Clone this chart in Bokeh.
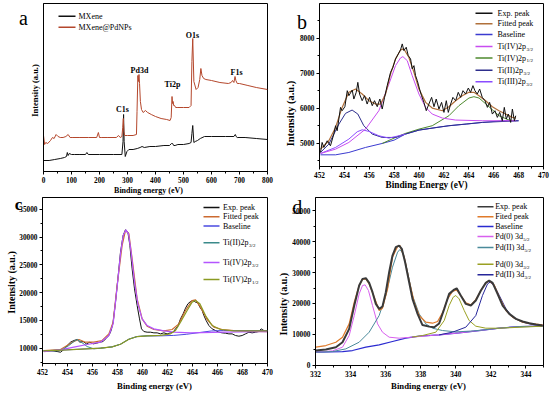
import math
from bokeh.plotting import figure
from bokeh.layouts import row, column
from bokeh.models import Range1d, Label, BoxAnnotation, SingleIntervalTicker, FixedTicker, GridBox
from bokeh.embed import file_html
from bokeh.resources import INLINE

SERIF = "Liberation Serif"

# ---------------- DATA ----------------
# Panel a: survey spectra (arbitrary intensity units)
a_mx_x = [0, 20, 40, 60, 75, 82, 85, 88, 92, 100, 110, 130, 150, 155, 160, 200, 250, 280, 284, 286, 288,
          292, 298, 305, 320, 335, 345, 352, 360, 380, 400, 430, 450, 457, 461, 465, 470, 480, 500, 520,
          527, 530, 533, 537, 542, 550, 560, 575, 600, 650, 680, 685, 688, 692, 720, 760, 800]
a_mx_y = [11, 11, 12, 13, 14, 15, 19, 16, 18, 17, 17, 17, 17, 19, 17, 17, 17, 17, 30, 57, 30,
          15, 20, 22, 22, 23, 24, 25, 24, 25, 25, 26, 26, 28, 28, 26, 26, 27, 27, 28,
          29, 38, 46, 29, 30, 31, 33, 35, 35, 35, 35, 37, 35, 34, 34, 33, 32]
a_pd_x = [0, 4, 8, 15, 25, 32, 38, 45, 52, 60, 70, 80, 88, 95, 105, 130, 160, 190, 196, 200, 206, 230,
          260, 268, 274, 280, 283, 285, 287, 290, 300, 320, 332, 334, 337, 339, 341, 343, 346, 350, 356,
          364, 372, 385, 400, 420, 440, 452, 456, 459, 461, 463, 465, 468, 472, 480, 500, 520, 527, 530,
          533, 537, 545, 552, 558, 562, 566, 572, 580, 600, 630, 660, 670, 675, 680, 684, 687, 692, 700,
          730, 760, 800]
a_pd_y = [36, 27, 29, 28, 31, 34, 33, 37, 35, 34, 34, 35, 37, 34, 34, 34, 34, 34, 39, 34, 34, 34,
          34, 36, 34, 35, 44, 53, 40, 36, 36, 36, 37, 60, 96, 90, 97, 88, 70, 62, 59,
          61, 59, 57, 55, 53, 52, 51, 54, 75, 68, 70, 66, 66, 64, 64, 64, 64, 66, 110,
          133, 90, 82, 84, 92, 103, 96, 93, 92, 91, 89, 88, 89, 91, 89, 95, 91, 88, 88,
          86, 84, 82]
a_series = ["MXene", "MXene@PdNPs"]
a_peak_names = ["C1s", "Pd3d", "Ti2p", "O1s", "F1s"]

# Panel b: Ti 2p of MXene (counts)
b_exp_x = [452.08, 452.21, 452.35, 452.62, 452.88, 453.15, 453.29, 453.42, 453.69, 453.82, 454.04, 454.23,
           454.36, 454.63, 454.76, 454.95, 455.08, 455.22, 455.43, 455.62, 455.83, 456.02, 456.24, 456.42,
           456.64, 456.85, 457.04, 457.23, 457.44, 457.71, 457.90, 458.11, 458.33, 458.51, 458.65, 458.78,
           458.97, 459.13, 459.32, 459.45, 459.59, 459.72, 459.86, 460.04, 460.20, 460.39, 460.58, 460.79,
           461.01, 461.20, 461.38, 461.60, 461.81, 462.00, 462.19, 462.35, 462.54, 462.72, 462.94, 463.15,
           463.34, 463.53, 463.74, 463.96, 464.14, 464.33, 464.49, 464.68, 464.87, 465.08, 465.30, 465.49,
           465.67, 465.89, 466.10, 466.29, 466.48, 466.69, 466.85, 467.01, 467.17, 467.36, 467.50, 467.66,
           467.77]
b_exp_y = [4743, 5029, 4886, 5076, 4933, 5267, 5505, 5362, 6028, 5933, 6047, 6504,
           6361, 6523, 6266, 6457, 6742, 6409, 6219, 6361, 6123, 6314, 6076, 6219,
           6047, 6266, 5981, 6314, 6647, 7028, 7171, 7409, 7551, 7666, 7837, 7647,
           7742, 7504, 7409, 7123, 7218, 6933, 6790, 6552, 6361, 6171, 5933, 6123,
           6314, 6047, 6266, 5981, 6171, 5885, 6219, 5885, 6123, 6314, 6219, 6457,
           6314, 6504, 6409, 6580, 6457, 6647, 6504, 6409, 6552, 6314, 6219, 6028,
           6171, 5838, 5933, 5743, 5885, 5647, 6028, 5695, 5838, 5600, 5981, 5647,
           5790]
b_fit_x = [452.08, 452.75, 453.29, 453.82, 454.36, 454.90, 455.43, 455.97, 456.50, 456.91, 457.31, 457.71,
           458.11, 458.51, 458.78, 459.18, 459.59, 459.99, 460.53, 461.06, 461.87, 462.40, 462.94, 463.47,
           464.01, 464.41, 464.82, 465.35, 465.89, 466.42, 466.96, 467.50, 467.77]
b_fit_y = [4838, 5076, 5457, 6028, 6457, 6552, 6409, 6219, 6123, 6123, 6409, 6980,
           7409, 7666, 7694, 7456, 7028, 6552, 6171, 6009, 5933, 6047, 6219, 6361,
           6457, 6457, 6361, 6219, 6047, 5933, 5838, 5743, 5724]
b_base_x = [452.08, 453.29, 454.36, 455.70, 457.04, 458.00, 458.90, 460.00, 461.50, 462.40, 463.80, 465.10,
            466.70, 468.00]
b_base_y = [4676, 4676, 4743, 4886, 5000, 5095, 5267, 5381, 5462, 5505, 5552, 5600, 5647, 5647]
b_t4a_x = [452.08, 453.29, 454.36, 455.70, 456.77, 457.58, 458.11, 458.51, 458.70, 459.05, 459.45, 459.99,
           460.53, 461.06, 461.87, 462.94, 465.08, 467.77]
b_t4a_y = [4714, 4838, 5029, 5409, 5933, 6695, 7218, 7437, 7475, 7361, 6933, 6409,
           6028, 5838, 5724, 5667, 5647, 5647]
b_t4b_x = [457.04, 458.11, 458.90, 460.00, 461.06, 462.40, 463.20, 464.01, 464.41, 464.82, 465.62, 466.42,
           467.23, 467.77]
b_t4b_y = [5000, 5171, 5286, 5409, 5505, 5790, 6076, 6295, 6333, 6295, 6047, 5790, 5667, 5647]
b_t2_x = [452.08, 452.75, 453.56, 454.09, 454.62, 455.08, 455.56, 456.24, 457.04, 458.11, 458.90, 460.00,
          462.40, 465.10, 468.00]
b_t2_y = [4743, 4981, 5552, 5857, 5952, 5838, 5505, 5267, 5171, 5171, 5267, 5381, 5505, 5600, 5647]
b_t3_x = [452.08, 453.29, 454.36, 455.03, 455.43, 455.97, 456.77, 457.58, 458.38, 458.90]
b_t3_y = [4714, 4886, 5124, 5333, 5390, 5343, 5219, 5152, 5219, 5267]

# Panel c: Ti 2p of MXene@PdNPs (counts)
c_exp_x = [452.11, 452.64, 453.17, 453.44, 453.71, 453.97, 454.24, 454.51, 454.77, 454.99, 455.25, 455.52,
           455.79, 456.05, 456.32, 456.59, 456.85, 457.04, 457.31, 457.49, 457.65, 457.84, 458.03, 458.24,
           458.45, 458.64, 458.83, 458.99, 459.17, 459.36, 459.57, 459.76, 459.92, 460.11, 460.37, 460.64,
           460.91, 461.17, 461.44, 461.71, 461.97, 462.24, 462.45, 462.64, 462.83, 463.04, 463.25, 463.44,
           463.63, 463.84, 464.05, 464.24, 464.43, 464.59, 464.77, 464.91, 465.09, 465.31, 465.57, 465.84,
           466.11, 466.37, 466.64, 466.91, 467.17, 467.44, 467.71, 467.97, 468.24, 468.51, 468.77, 469.04,
           469.31, 469.49, 469.71, 469.97]
c_exp_y = [9400, 9580, 9400, 9280, 9760, 10480, 11080, 11380, 11560, 11080, 11200, 10780,
           11080, 10780, 10900, 11080, 11200, 11680, 12280, 13180, 14680, 18280, 22480, 27280,
           30280, 31300, 30880, 28480, 24280, 20680, 17680, 15280, 13480, 13000, 12880, 12880,
           12760, 12760, 12580, 12760, 12580, 12760, 12880, 13480, 13960, 15280, 16180, 17200,
           17980, 18400, 18580, 18280, 18160, 17380, 16780, 15880, 14980, 14080, 13480, 13180,
           12880, 12760, 12700, 12580, 12580, 12280, 12160, 12280, 12580, 12880, 12760, 12880,
           13000, 13480, 13180, 13180]
c_fit_x = [452.11, 453.44, 453.97, 454.51, 454.91, 455.44, 456.11, 456.77, 457.31, 457.65, 457.97, 458.37,
           458.64, 458.91, 459.17, 459.57, 459.97, 460.37, 460.91, 461.71, 462.37, 462.91, 463.44, 463.97,
           464.24, 464.64, 465.17, 465.71, 466.37, 467.31, 468.37, 469.97]
c_fit_y = [9580, 9760, 10480, 11200, 11560, 11080, 11080, 11380, 12580, 14680, 21280, 28480,
           31180, 30580, 26080, 18880, 15280, 13960, 13360, 13120, 13360, 14380, 16780, 18580,
           18700, 17380, 15160, 13780, 13360, 13180, 13060, 13000]
c_base_x = [452.05, 453.97, 456.64, 457.57, 458.24, 458.91, 459.57, 460.37, 461.44, 462.50, 463.50, 464.50,
            465.50, 466.50, 470.00]
c_base_y = [9530, 9710, 10000, 10240, 10720, 11620, 12100, 12220, 12220, 12300, 12500, 12800,
            13100, 13180, 13180]
c_t2_x = [452.11, 453.44, 454.11, 454.51, 454.77, 455.04, 455.57, 456.11, 456.64, 457.57, 458.24, 458.91,
          459.57, 460.37, 461.44]
c_t2_y = [9400, 9580, 10480, 11200, 11560, 11200, 10300, 9880, 10000, 10240, 10720, 11620,
          12100, 12220, 12300]
c_t4a_x = [452.11, 453.44, 454.51, 455.57, 456.64, 457.31, 457.65, 457.97, 458.24, 458.45, 458.67, 458.88,
           459.09, 459.36, 459.63, 459.97, 460.37, 460.91, 461.71, 462.51, 463.84, 466.51, 469.97]
c_t4a_y = [9400, 9700, 10180, 10660, 11080, 12280, 14380, 20980, 26980, 30280, 31300, 30580,
           27280, 21880, 17980, 15280, 14080, 13480, 13120, 12880, 12760, 12880, 13000]
c_t4b_x = [452.05, 453.97, 456.64, 457.57, 458.24, 458.91, 459.57, 460.37, 461.44, 462.24, 462.64, 463.04,
           463.57, 463.97, 464.24, 464.59, 465.04, 465.57, 466.24, 467.31, 470.00]
c_t4b_y = [9530, 9710, 10000, 10240, 10720, 11620, 12100, 12220, 12300, 12580, 13180, 14680,
           16780, 18280, 18600, 17980, 15880, 14080, 13360, 13120, 13120]

# Panel d: Pd 3d of MXene@PdNPs (counts)
d_exp_x = [332.02, 332.59, 333.16, 333.54, 333.92, 334.21, 334.49, 334.68, 334.87, 335.06, 335.25, 335.44,
           335.63, 335.82, 336.01, 336.20, 336.39, 336.58, 336.77, 336.92, 337.11, 337.34, 337.53, 337.82,
           338.10, 338.48, 338.77, 339.05, 339.34, 339.62, 339.91, 340.05, 340.29, 340.57, 340.86, 341.14,
           341.43, 341.71, 341.90, 342.10, 342.38, 342.67, 343.05, 343.43, 343.81, 344.19, 344.57, 344.95]
d_exp_y = [4752, 5076, 5832, 7452, 11772, 19332, 25812, 27972, 28188, 26676, 23652, 19872,
           18252, 19008, 23652, 30132, 35532, 38232, 38772, 37692, 33372, 26892, 21492, 16632,
           13000, 12500, 12300, 13500, 18252, 23112, 24500, 24900, 22500, 19872, 19332, 20952,
           24192, 26676, 27432, 26676, 23112, 19332, 16632, 15012, 14148, 13608, 13176, 12852]
d_fit_x = [332.02, 332.59, 333.16, 333.54, 333.92, 334.21, 334.49, 334.68, 334.87, 335.06, 335.35, 335.63,
           335.82, 336.11, 336.39, 336.68, 336.81, 337.06, 337.34, 337.63, 337.91, 338.29, 338.67, 338.96,
           339.24, 339.53, 339.81, 340.04, 340.29, 340.57, 340.86, 341.14, 341.43, 341.71, 341.90, 342.19,
           342.48, 342.86, 343.24, 343.81, 344.38, 344.95]
d_fit_y = [5832, 6372, 7452, 9072, 13392, 20412, 25812, 27756, 27972, 26352, 22032, 17712,
           18468, 24732, 34992, 38448, 38772, 34992, 27432, 20412, 16092, 13932, 13608, 14148,
           16956, 21492, 23868, 24408, 22572, 20196, 19548, 21276, 24192, 26676, 27324, 26028,
           22032, 17712, 15552, 13932, 13392, 13068]
d_base_x = [332.02, 333.54, 334.11, 334.87, 335.63, 336.39, 337.15, 337.91, 339.05, 340.19, 341.33, 342.48,
            343.62, 344.95]
d_base_y = [4212, 4428, 4752, 5832, 6588, 7668, 8748, 9396, 9828, 10476, 11232, 11988, 12528, 12636]
d_p0a_x = [332.02, 332.97, 333.54, 333.92, 334.21, 334.49, 334.68, 334.83, 335.02, 335.25, 335.54, 335.82,
           336.20, 336.77, 337.53, 338.50, 339.05, 340.19, 341.33, 342.48, 343.62, 344.95]
d_p0a_y = [4212, 4644, 5832, 9612, 16092, 23112, 25812, 26028, 24192, 19332, 13392, 10692,
           9072, 8748, 9100, 9600, 9828, 10476, 11232, 11988, 12528, 12636]
d_p2a_x = [332.02, 332.97, 333.73, 334.49, 335.06, 335.63, 336.01, 336.39, 336.68, 336.81, 337.01, 337.25,
           337.53, 337.91, 338.29, 338.67, 339.24, 340.00, 341.00, 342.48, 343.62, 344.95]
d_p2a_y = [4212, 4428, 5292, 7452, 10692, 16092, 22572, 31752, 36612, 37476, 36072, 30132,
           22572, 16632, 13392, 11988, 11232, 10800, 11100, 11988, 12528, 12636]
d_p0b_x = [337.50, 338.10, 338.86, 339.34, 339.62, 339.85, 340.00, 340.19, 340.48, 340.76, 341.14, 341.71,
           342.48, 344.95]
d_p0b_y = [9100, 9612, 10692, 14472, 19332, 22032, 22572, 21492, 17712, 14472, 12636, 11988,
           11988, 12636]
d_p2b_x = [339.05, 339.81, 340.57, 341.14, 341.52, 341.81, 341.95, 342.19, 342.48, 342.86, 343.24, 343.81,
           344.38, 344.95]
d_p2b_y = [9828, 10692, 12312, 16092, 22572, 26352, 26892, 25812, 22572, 18252, 15552, 13932,
           13176, 12852]

# ---------------- LAYOUT HELPERS ----------------
PAGE_W, PAGE_H = 550, 393


def make_panel(box, xr, yr, fw, fh, l, r, t, b, xint, yint):
    p = figure(width=l + fw + r, height=t + fh + b, frame_width=fw, frame_height=fh,
               x_range=Range1d(*xr), y_range=Range1d(*yr), output_backend="svg",
               toolbar_location=None, min_border_left=l, min_border_right=r,
               min_border_top=t, min_border_bottom=b)
    p.outline_line_color = "black"
    p.outline_line_width = 1
    p.outline_line_alpha = 1
    p.xgrid.visible = False
    p.ygrid.visible = False
    p.background_fill_color = "white"
    p.border_fill_color = "white"
    for ax in (p.xaxis[0], p.yaxis[0]):
        ax.axis_line_color = "black"
        ax.axis_line_width = 1
        ax.major_tick_line_color = "black"
        ax.minor_tick_line_color = "black"
        ax.major_tick_in = 0
        ax.major_tick_out = 3
        ax.minor_tick_in = 0
        ax.minor_tick_out = 2
        ax.major_label_text_font = SERIF
        ax.major_label_text_font_style = "bold"
        ax.major_label_text_font_size = "7.3px"
        ax.major_label_text_color = "black"
        ax.major_label_standoff = 2
    p.xaxis[0].ticker = SingleIntervalTicker(interval=xint, num_minor_ticks=2)
    if yint:
        p.yaxis[0].ticker = SingleIntervalTicker(interval=yint, num_minor_ticks=2)
    else:
        p.yaxis[0].ticker = FixedTicker(ticks=[])
        p.yaxis[0].major_tick_out = 0
    p._box = box
    return p


def rd(p, rx, ry):
    L, T, R, B = p._box
    x0, x1 = p.x_range.start, p.x_range.end
    y0, y1 = p.y_range.start, p.y_range.end
    return x0 + (rx - L) / (R - L) * (x1 - x0), y1 - (ry - T) / (B - T) * (y1 - y0)


def put_text(p, rx, ry, text, size, bold=False, align="left", angle=0.0, baseline="middle"):
    x, y = rd(p, rx, ry)
    p.add_layout(Label(x=x, y=y, text=text, text_font=SERIF, text_font_size=f"{size}px",
                       text_font_style="bold" if bold else "normal", text_align=align,
                       text_baseline=baseline, angle=angle, text_color="black"))


def put_swatch(p, rx0, rx1, ry, color, th=1.5):
    xa, ya = rd(p, rx0, ry + th / 2)
    xb, yb = rd(p, rx1, ry - th / 2)
    p.add_layout(BoxAnnotation(left=xa, right=xb, bottom=ya, top=yb, fill_color=color,
                               fill_alpha=1, line_alpha=0))


def legend(p, entries, sx0, sx1, tx, rows, size=8):
    for (txt, sub, color, w), ry in zip(entries, rows):
        put_swatch(p, sx0, sx1, ry, color)
        put_text(p, tx, ry, txt, size)
        if sub:
            put_text(p, tx + w, ry + 2.8, sub, 5)


# transparent overlay (page pixel coordinates) carrying texts outside the plot frames
ov = figure(width=PAGE_W, height=PAGE_H, x_range=Range1d(0, PAGE_W), y_range=Range1d(PAGE_H, 0),
            output_backend="svg", toolbar_location=None, x_axis_type=None, y_axis_type=None,
            min_border=0, min_border_left=0, min_border_right=0, min_border_top=0, min_border_bottom=0)
ov.outline_line_color = None
ov.background_fill_alpha = 0
ov.border_fill_alpha = 0


def ov_text(rx, ry, text, size, bold=False, align="center", angle=0.0, baseline="middle"):
    ov.add_layout(Label(x=rx, y=ry, text=text, text_font=SERIF, text_font_size=f"{size}px",
                        text_font_style="bold" if bold else "normal", text_align=align,
                        text_baseline=baseline, angle=angle, text_color="black"))


YT = "Intensity (a.u.)"
XT = "Binding energy (eV)"

# ---------------- PANEL a ----------------
pa = make_panel((43, 3, 267, 171), (0, 800), (0, 168), 224, 168, 43, 8, 3, 22, 100, None)
col_mx, col_pd = "#111111", "#b4472c"
pa.line(a_mx_x, a_mx_y, line_color=col_mx, line_width=1)
pa.line(a_pd_x, a_pd_y, line_color=col_pd, line_width=1)
legend(pa, [(a_series[0], None, col_mx, 0), (a_series[1], None, col_pd, 0)], 58, 75, 78, [15.7, 26.7])
for name, (rx, ry) in zip(a_peak_names, [(122, 108.5), (139, 70), (172, 83.5), (192, 35), (236, 71.5)]):
    put_text(pa, rx, ry, name, 8, bold=True, align="center")
ov_text(35, 90, YT, 8.4, bold=True, angle=math.pi / 2)
ov_text(148, 189.5, XT, 8, bold=True)
ov_text(23, 17, "a", 20, baseline="alphabetic")

# ---------------- PANEL b ----------------
pb = make_panel((319, 3, 543, 166), (452, 470), (4343, 8989), 224, 163, 44, 7, 3, 27, 2, 1000)
cb = dict(fit="#b0703a", base="#3b3bd0", t4a="#c84cf0", t4b="#4e8a2e", t2="#2e2e8c", t3="#8a4cff")
pb.line(b_base_x, b_base_y, line_color=cb["base"], line_width=1)
pb.line(b_t4b_x, b_t4b_y, line_color=cb["t4b"], line_width=1)
pb.line(b_t2_x, b_t2_y, line_color=cb["t2"], line_width=1)
pb.line(b_t3_x, b_t3_y, line_color=cb["t3"], line_width=1)
pb.line(b_t4a_x, b_t4a_y, line_color=cb["t4a"], line_width=1)
pb.line(b_fit_x, b_fit_y, line_color=cb["fit"], line_width=1.2)
pb.line(b_exp_x, b_exp_y, line_color="#111111", line_width=1)
legend(pb, [("Exp. peak", None, "#111111", 0), ("Fitted peak", None, cb["fit"], 0),
            ("Baseline", None, cb["base"], 0), ("Ti(IV)2p", "3/2", cb["t4a"], 29),
            ("Ti(IV)2p", "1/2", cb["t4b"], 29), ("Ti(II)2p", "3/2", cb["t2"], 26),
            ("Ti(III)2p", "3/2", cb["t3"], 28.7)],
       475, 492, 497, [12.7, 23.3, 34, 46, 57.5, 69.7, 81.3])
ov_text(290, 113, YT, 10.5, bold=True, angle=math.pi / 2)
ov_text(426, 184.5, "Binding Energy (eV)", 9.3, bold=True)
ov_text(301.5, 21, "b", 20, baseline="alphabetic")

# ---------------- PANEL c ----------------
pc = make_panel((42, 200, 267, 366), (452, 470), (7248, 37110), 225, 166, 42, 8, 4, 27, 2, 5000)
cc = dict(fit="#cc6a30", base="#4a4ae0", t2="#3a8a8a", t4a="#b455ff", t4b="#8a9a22")
pc.line(c_exp_x, c_exp_y, line_color="#111111", line_width=1)
pc.line(c_fit_x, c_fit_y, line_color=cc["fit"], line_width=1.2)
pc.line(c_base_x, c_base_y, line_color=cc["base"], line_width=1)
pc.line(c_t2_x, c_t2_y, line_color=cc["t2"], line_width=1)
pc.line(c_t4a_x, c_t4a_y, line_color=cc["t4a"], line_width=1.2)
pc.line(c_t4b_x, c_t4b_y, line_color=cc["t4b"], line_width=1.2)
legend(pc, [("Exp. peak", None, "#111111", 0), ("Fitted peak", None, cc["fit"], 0),
            ("Baseline", None, cc["base"], 0), ("Ti(II)2p", "3/2", cc["t2"], 26),
            ("Ti(IV)2p", "3/2", cc["t4a"], 29), ("Ti(IV)2p", "1/2", cc["t4b"], 29)],
       203, 219, 222.5, [210, 219.3, 228.5, 245.3, 265, 282])
ov_text(11, 282, YT, 10, bold=True, angle=math.pi / 2)
ov_text(154, 385.5, XT, 8.7, bold=True)
ov_text(18, 204, "c", 17, bold=True, baseline="alphabetic")

# ---------------- PANEL d ----------------
pd = make_panel((315, 198, 543, 366), (332, 345), (-97, 54335), 228, 168, 40, 7, 2, 27, 2, 10000)
cd = dict(fit="#e07a2a", base="#2a2ad0", p0a="#d860ee", p2a="#4a8a9a", p0b="#9aa022", p2b="#26269a")
pd.line(d_base_x, d_base_y, line_color=cd["base"], line_width=1.2)
pd.line(d_p0a_x, d_p0a_y, line_color=cd["p0a"], line_width=1)
pd.line(d_p2a_x, d_p2a_y, line_color=cd["p2a"], line_width=1)
pd.line(d_p0b_x, d_p0b_y, line_color=cd["p0b"], line_width=1)
pd.line(d_p2b_x, d_p2b_y, line_color=cd["p2b"], line_width=1)
pd.line(d_fit_x, d_fit_y, line_color=cd["fit"], line_width=1.2)
pd.line(d_exp_x, d_exp_y, line_color="#3a3a3a", line_width=2)
legend(pd, [("Exp. peak", None, "#3a3a3a", 0), ("Fited peak", None, cd["fit"], 0),
            ("Baseline", None, cd["base"], 0), ("Pd(0) 3d", "5/2", cd["p0a"], 28),
            ("Pd(II) 3d", "5/2", cd["p2a"], 29.4), ("Pd(0) 3d", "3/2", cd["p0b"], 28),
            ("Pd(II) 3d", "3/2", cd["p2b"], 29.4)],
       477, 493, 494.7, [207.2, 217.3, 227, 237, 248, 264.8, 275.3])
ov_text(282.5, 303.7, YT, 10, bold=True, angle=math.pi / 2)
ov_text(428, 385, XT, 8.7, bold=True)
ov_text(296.7, 206.7, "d", 20, baseline="alphabetic")

main = column(row(pa, pb), row(pc, pd))
layout = GridBox(children=[(main, 0, 0), (ov, 0, 0)])
open("out.html", "w").write(file_html(layout, INLINE))
